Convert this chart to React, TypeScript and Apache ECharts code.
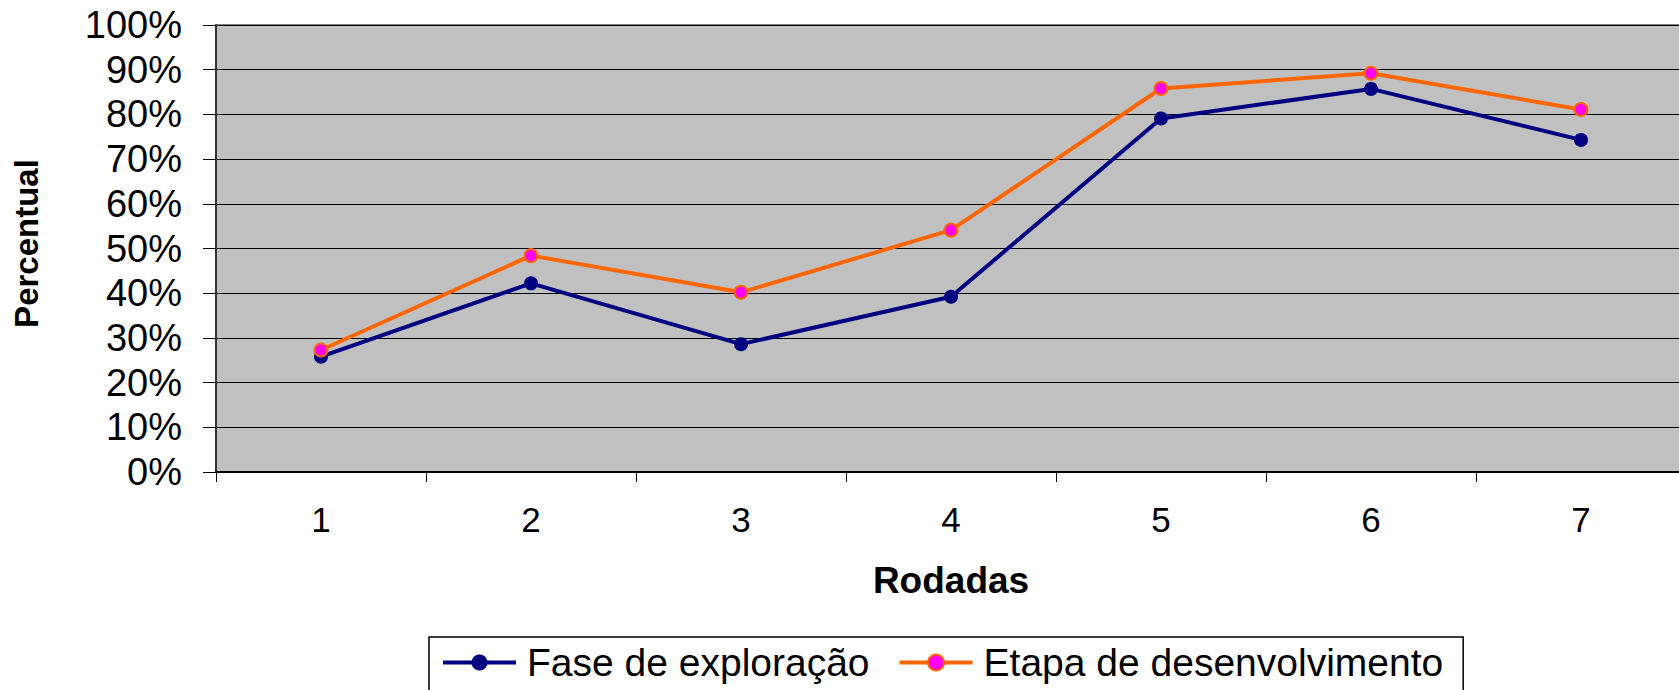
import React, { useEffect, useRef } from "react";
import * as echarts from "echarts";

const rounds = ["1", "2", "3", "4", "5", "6", "7"];
const faseExploracao = [25.8, 42.2, 28.6, 39.2, 79.1, 85.7, 74.3];
const etapaDesenvolvimento = [27.3, 48.4, 40.2, 54.1, 85.8, 89.2, 81.1];
const seriesNames = ["Fase de exploração", "Etapa de desenvolvimento"];

export default function App() {
  const ref = useRef<HTMLDivElement>(null);
  useEffect(() => {
    if (!ref.current) return;
    const chart = echarts.init(ref.current, null, { renderer: "svg" });
    const font = "'Liberation Sans', Arial, sans-serif";
    chart.setOption({
      animation: false,
      backgroundColor: "#ffffff",
      textStyle: { fontFamily: font },
      grid: {
        left: 216,
        top: 25,
        width: 1470,
        height: 447,
        outerBoundsMode: "none",
        containLabel: false,
        show: true,
        backgroundColor: "#C0C0C0",
        borderColor: "#808080",
        borderWidth: 2,
      },
      legend: {
        left: 429,
        top: 637,
        padding: [6, 20, 40, 12],
        borderColor: "#000",
        borderWidth: 1.5,
        backgroundColor: "#fff",
        itemWidth: 73,
        itemHeight: 20,
        itemGap: 28,
        lineStyle: { width: 4 },
        textStyle: { fontSize: 39, color: "#000", fontFamily: font, padding: [0, 0, 0, 6] },
        data: seriesNames,
      },
      xAxis: {
        type: "category",
        data: rounds,
        boundaryGap: true,
        name: "Rodadas",
        nameLocation: "middle",
        nameGap: 90,
        nameTextStyle: { fontSize: 37, fontWeight: "bold", color: "#000", fontFamily: font },
        axisLine: { show: true, lineStyle: { color: "#000", width: 2 } },
        axisTick: { show: true, length: 10, lineStyle: { color: "#000", width: 1 } },
        axisLabel: { fontSize: 35, color: "#000", margin: 30, fontFamily: font },
        splitLine: { show: false },
      },
      yAxis: {
        type: "value",
        min: 0,
        max: 100,
        interval: 10,
        name: "Percentual",
        nameLocation: "middle",
        nameRotate: 90,
        nameGap: 173,
        nameTextStyle: { fontSize: 33, fontWeight: "bold", color: "#000", fontFamily: font, padding: [0, 0, 0, 10] },
        axisLine: { show: true, lineStyle: { color: "#333", width: 2 } },
        axisTick: { show: true, length: 13, lineStyle: { color: "#000", width: 1 } },
        axisLabel: { fontSize: 38, color: "#000", margin: 34, formatter: "{value}%", fontFamily: font },
        splitLine: { show: true, lineStyle: { color: "#000", width: 1.2 } },
      },
      series: [
        {
          name: seriesNames[0],
          type: "line",
          data: faseExploracao,
          symbol: "circle",
          symbolSize: 14,
          lineStyle: { color: "#000080", width: 4 },
          itemStyle: { color: "#000080", borderColor: "#000080", borderWidth: 0 },
        },
        {
          name: seriesNames[1],
          type: "line",
          data: etapaDesenvolvimento,
          symbol: "circle",
          symbolSize: 13,
          lineStyle: { color: "#FF6600", width: 4 },
          itemStyle: { color: "#FF00FF", borderColor: "#FF6600", borderWidth: 2 },
        },
      ],
    });
    return () => chart.dispose();
  }, []);
  return (
    <div
      ref={ref}
      style={{ position: "fixed", left: 0, top: 0, width: 1679, height: 690 }}
    />
  );
}
